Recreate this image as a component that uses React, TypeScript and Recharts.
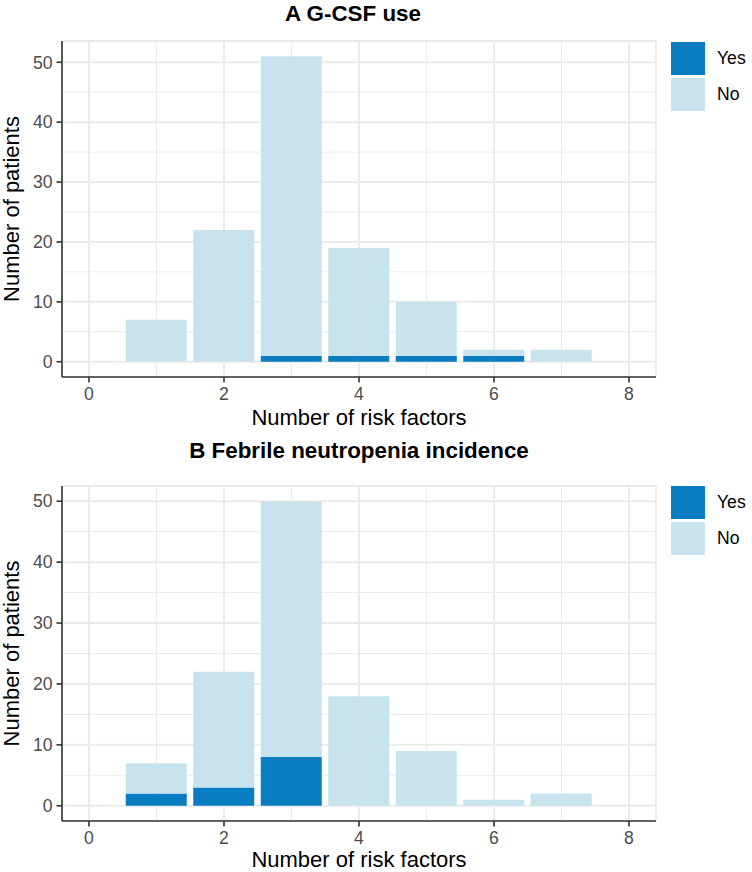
import React from 'react';
import {
  BarChart,
  Bar,
  XAxis,
  YAxis,
  CartesianGrid,
} from 'recharts';

const riskFactors = [1, 2, 3, 4, 5, 6, 7];
const gcsfYes = [0, 0, 1, 1, 1, 1, 0];
const gcsfNo = [7, 22, 50, 18, 9, 1, 2];
const fnYes = [2, 3, 8, 0, 0, 0, 0];
const fnNo = [5, 19, 42, 18, 9, 1, 2];

const xTicks = [0, 2, 4, 6, 8];
const xMinor = [1, 3, 5, 7];
const yTicks = [0, 10, 20, 30, 40, 50];
const yMinor = [5, 15, 25, 35, 45];

const COLOR_YES = '#0A7CC1';
const COLOR_NO = '#C7E4EE';
const series = [
  { key: 'yes', name: 'Yes', color: COLOR_YES },
  { key: 'no', name: 'No', color: COLOR_NO },
];
const FONT = '"Liberation Sans", Arial, Helvetica, sans-serif';

const build = (yes: number[], no: number[]) =>
  riskFactors.map((x, i) => ({ x, yes: yes[i], no: no[i] }));

const dataA = build(gcsfYes, gcsfNo);
const dataB = build(fnYes, fnNo);

const LegendBox = ({ top }: { top: number }) => (
  <div style={{ position: 'absolute', left: 671, top, fontFamily: FONT }}>
    {series.map((s) => (
      <div
        key={s.key}
        style={{ display: 'flex', alignItems: 'center', marginBottom: 3 }}
      >
        <div style={{ width: 34, height: 33, background: s.color }} />
        <span style={{ marginLeft: 12, fontSize: 17.6, color: '#000' }}>
          {s.name}
        </span>
      </div>
    ))}
  </div>
);

type PanelProps = {
  data: any[];
  title: string;
  titleX: number;
  titleY: number;
  height: number;
  marginTop: number;
  xAxisHeight: number;
  yDomain: [number, number];
  xLabelOffset: number;
};

const Panel = ({
  data,
  title,
  titleX,
  titleY,
  height,
  marginTop,
  xAxisHeight,
  yDomain,
  xLabelOffset,
}: PanelProps) => (
  <BarChart
    width={752}
    height={height}
    data={data}
    margin={{ top: marginTop, right: 96, left: 0, bottom: 0 }}
    style={{ fontFamily: FONT }}
  >
    <text
      x={titleX}
      y={titleY}
      textAnchor="middle"
      fontFamily={FONT}
      fontWeight="bold"
      fontSize={22.4}
      fill="#000"
    >
      {title}
    </text>
    <CartesianGrid
      stroke="#EBEBEB"
      strokeWidth={1}
      verticalValues={xMinor}
      horizontalValues={yMinor}
    />
    <CartesianGrid stroke="#EBEBEB" strokeWidth={2} />
    <XAxis
      dataKey="x"
      type="number"
      domain={[-0.4, 8.4]}
      ticks={xTicks}
      allowDataOverflow
      height={xAxisHeight}
      tickSize={5.5}
      tickMargin={5}
      axisLine={{ stroke: '#333333', strokeWidth: 1.6 }}
      tickLine={{ stroke: '#333333', strokeWidth: 1.6 }}
      tick={{ fill: '#4D4D4D', fontSize: 17.6, fontFamily: FONT }}
      label={{
        value: 'Number of risk factors',
        position: 'insideBottom',
        offset: xLabelOffset,
        fill: '#000',
        fontSize: 22,
        fontFamily: FONT,
      }}
    />
    <XAxis
      xAxisId="top"
      dataKey="x"
      type="number"
      orientation="top"
      domain={[-0.4, 8.4]}
      height={0}
      tick={false}
      tickLine={false}
      axisLine={{ stroke: '#333333', strokeWidth: 1.6 }}
    />
    <YAxis
      type="number"
      domain={yDomain}
      ticks={yTicks}
      allowDataOverflow
      width={62}
      tickSize={5.5}
      tickMargin={4}
      axisLine={{ stroke: '#333333', strokeWidth: 1.6 }}
      tickLine={{ stroke: '#333333', strokeWidth: 1.6 }}
      tick={{ fill: '#4D4D4D', fontSize: 17.6, fontFamily: FONT }}
      label={{
        value: 'Number of patients',
        angle: -90,
        position: 'insideLeft',
        offset: 11,
        fill: '#000',
        fontSize: 22,
        fontFamily: FONT,
        style: { textAnchor: 'middle' },
      }}
    />
    <YAxis
      yAxisId="right"
      orientation="right"
      type="number"
      domain={yDomain}
      width={0}
      tick={false}
      tickLine={false}
      axisLine={{ stroke: '#333333', strokeWidth: 1.6 }}
    />
    {series.map((s) => (
      <Bar
        key={s.key}
        dataKey={s.key}
        name={s.name}
        stackId="s"
        fill={s.color}
        barSize={61}
        isAnimationActive={false}
      />
    ))}
  </BarChart>
);

export default function App() {
  return (
    <div style={{ position: 'absolute', left: 0, top: 0, width: 752, height: 872, background: '#fff' }}>
      <div style={{ position: 'absolute', left: 0, top: 0 }}>
        <Panel
          data={dataA}
          title="A G-CSF use"
          titleX={353}
          titleY={21}
          height={445}
          marginTop={41}
          xAxisHeight={68}
          yDomain={[-2.55, 53.55]}
          xLabelOffset={20}
        />
      </div>
      <LegendBox top={42} />
      <div style={{ position: 'absolute', left: 0, top: 430 }}>
        <Panel
          data={dataB}
          title="B Febrile neutropenia incidence"
          titleX={359}
          titleY={28}
          height={442}
          marginTop={56}
          xAxisHeight={51}
          yDomain={[-2.5, 52.5]}
          xLabelOffset={5}
        />
      </div>
      <LegendBox top={486} />
    </div>
  );
}
